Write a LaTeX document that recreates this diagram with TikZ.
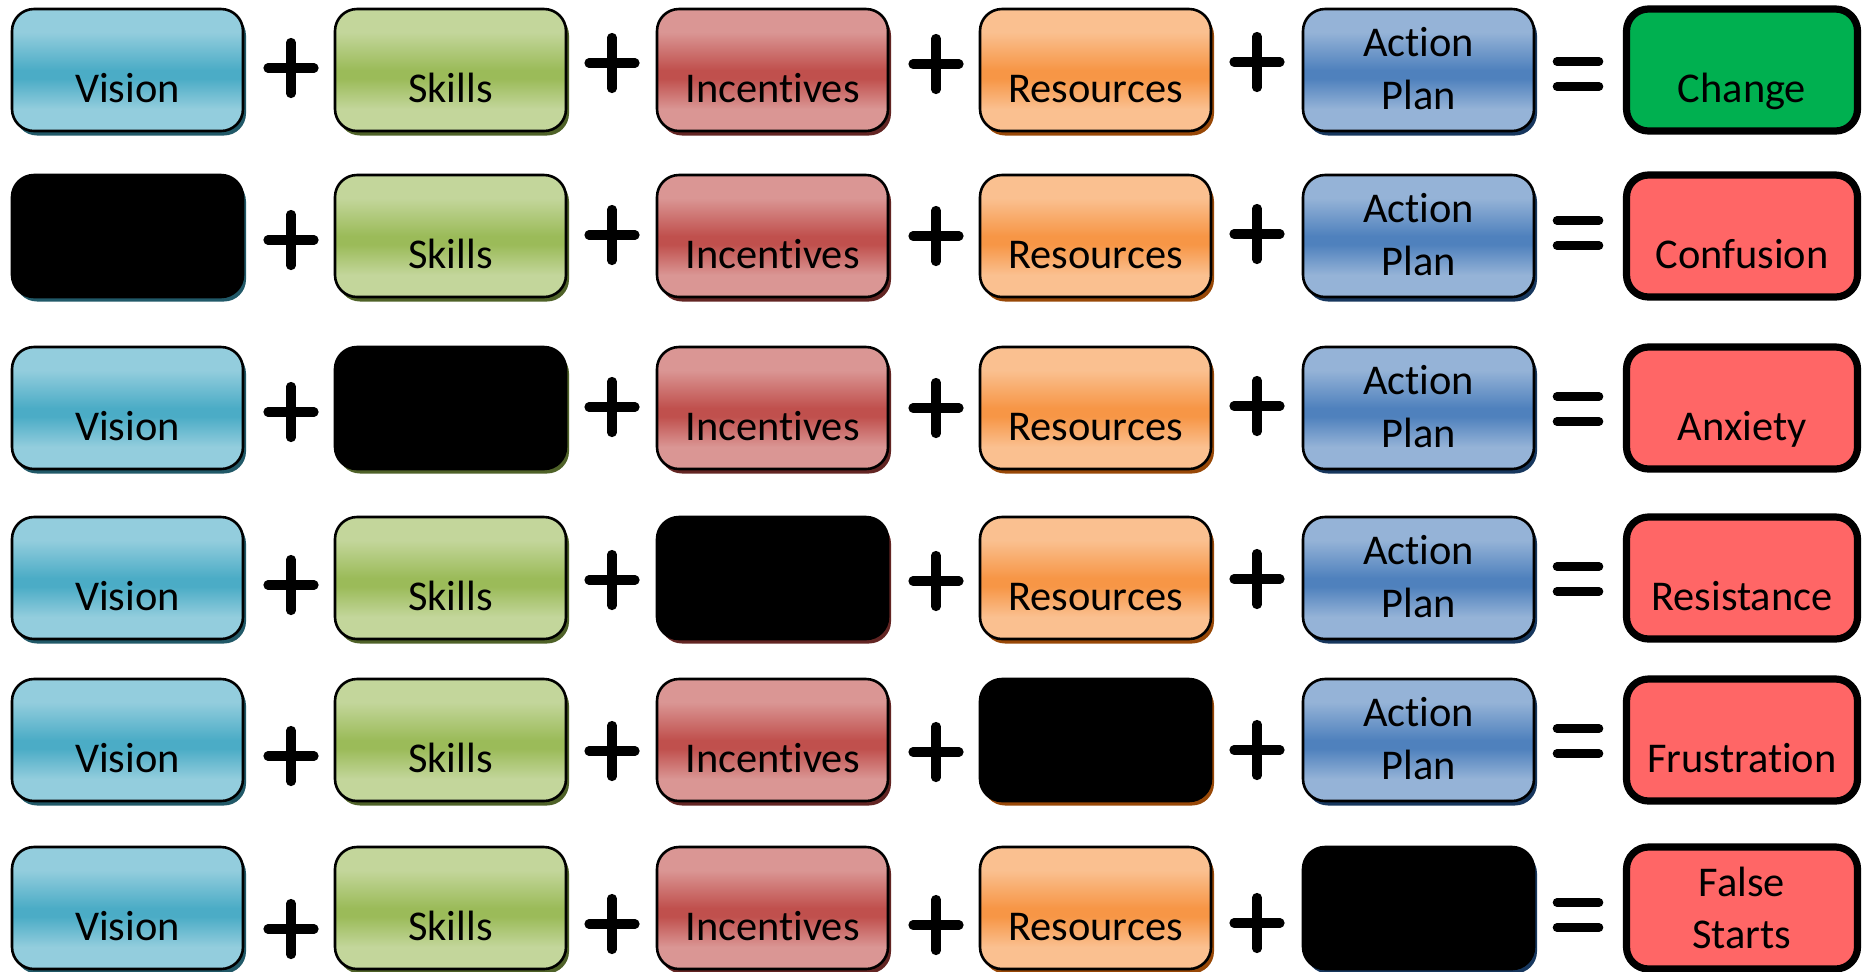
\documentclass[tikz,border=0pt]{standalone}
\usepackage{fontspec}
\setmainfont{Carlito}[Ligatures=NoCommon]
\usetikzlibrary{shadows}

\definecolor{visL}{HTML}{93CDDD}\definecolor{visD}{HTML}{4BACC6}\definecolor{visS}{HTML}{215968}
\definecolor{skiL}{HTML}{C3D69B}\definecolor{skiD}{HTML}{9BBB59}\definecolor{skiS}{HTML}{4F6228}
\definecolor{incL}{HTML}{DA9694}\definecolor{incD}{HTML}{C0504D}\definecolor{incS}{HTML}{632523}
\definecolor{resL}{HTML}{FAC090}\definecolor{resD}{HTML}{F79646}\definecolor{resS}{HTML}{984807}
\definecolor{actL}{HTML}{95B3D7}\definecolor{actD}{HTML}{4F81BD}\definecolor{actS}{HTML}{17375E}
\definecolor{chg}{HTML}{00B050}\definecolor{bad}{HTML}{FF6666}

\newcommand\mkshade[1]{\pgfdeclareverticalshading{#1sh}{100bp}{color(0bp)=(#1L); color(34bp)=(#1L); color(46.5bp)=(#1D); color(50bp)=(#1D); color(65.5bp)=(#1L); color(100bp)=(#1L)}}
\mkshade{vis}\mkshade{ski}\mkshade{inc}\mkshade{res}\mkshade{act}

\tikzset{
  boxbase/.style={draw=black, rounded corners=11pt, minimum width=115.5pt, minimum height=61pt, inner sep=0pt},
  cbox/.style={boxbase, line width=1.3pt, shade, shading=#1sh,
    general shadow={fill=#1S, shadow xshift=1.5pt, shadow yshift=-2.25pt}},
  bbox/.style={boxbase, line width=1.3pt, fill=black,
    general shadow={fill=#1S, shadow xshift=1.5pt, shadow yshift=-2.25pt}},
  rbox/.style={boxbase, line width=3.6pt, fill=#1},
  lbl/.style={font=\fontsize{21.2pt}{26pt}\selectfont, inner sep=0pt, anchor=base, text=black},
  opline/.style={line width=4.6pt, line cap=round},
  eqline/.style={line width=4.3pt, line cap=round}
}

% #1 row, #2 box centre y, #3 black column, #4 plus y, #5 equals y, #6 result colour, #7 result label
\newcommand\eqrow[7]{%
  \foreach \c/\x/\k/\t in {1/127.5/vis/Vision, 2/450.5/ski/Skills, 3/772.5/inc/Incentives, 4/1095.5/res/Resources, 5/1418.5/act/Action}{%
    \ifnum\c=#3\relax
      \node[bbox=\k] (b#1\c) at (\x,#2) {};
    \else
      \node[cbox=\k] (b#1\c) at (\x,#2) {};
      \ifnum\c=5\relax
        \node[lbl] (t#1\c) at (\x,{#2-14}) {Action};
        \node[lbl] (u#1\c) at (\x,{#2+39}) {Plan};
      \else
        \node[lbl] (t#1\c) at (\x,{#2+32}) {\t};
      \fi
    \fi
  }
  \foreach \c/\px/\dy in {1/291/3, 2/612/-2, 3/936/-1, 4/1257/-3}{%
    \coordinate (p#1\c) at (\px,{#4+\dy});
    \draw[opline] ([xshift=-11.5pt]p#1\c) -- ([xshift=11.5pt]p#1\c)
                  ([yshift=-12.75pt]p#1\c) -- ([yshift=12.75pt]p#1\c);
  }
  \coordinate (e#1) at (1578,#5);
  \draw[eqline] ([shift={(-10.5pt,6.25pt)}]e#1) -- ([shift={(10.5pt,6.25pt)}]e#1)
                ([shift={(-10.5pt,-6.25pt)}]e#1) -- ([shift={(10.5pt,-6.25pt)}]e#1);
  \node[rbox=#6] (r#1) at (1742,#2) {};
  \node[lbl] (rt#1) at (1742,{#2+32}) {#7};
}

\begin{document}
\begin{tikzpicture}[x=0.5pt,y=-0.5pt]
\useasboundingbox (0,0) rectangle (1869,971);
\eqrow{1}{70}{0}{65}{74}{chg}{Change}
\eqrow{2}{236}{1}{237}{233}{bad}{Confusion}
\eqrow{3}{408}{2}{409}{409}{bad}{Anxiety}
\eqrow{4}{578}{3}{582}{579}{bad}{Resistance}
\eqrow{5}{740}{4}{753}{741}{bad}{Frustration}
\eqrow{6}{908}{5}{926}{915}{bad}{}
\node[lbl] (fa) at (1742,896) {False};
\node[lbl] (st) at (1742,948) {Starts};
\end{tikzpicture}
\end{document}
